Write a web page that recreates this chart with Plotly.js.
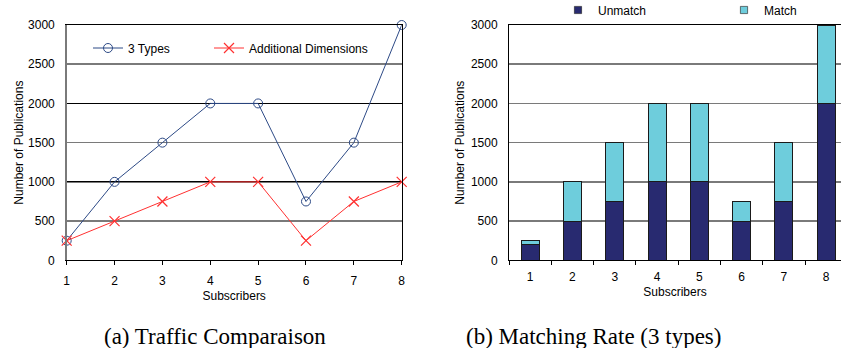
<!DOCTYPE html>
<html><head><meta charset="utf-8">
<script src="https://cdn.plot.ly/plotly-3.0.1.min.js"></script>
<style>html,body{margin:0;padding:0;background:#fff;overflow:hidden}#chart{width:841px;height:348px}</style>
</head><body><div id="chart"></div>
<script>
// ---- data ----
const subscribers = ['1','2','3','4','5','6','7','8'];
const threeTypes = [250,1000,1500,2000,2000,750,1500,3000];
const additionalDims = [250,500,750,1000,1000,250,750,1000];
const unmatch = [200,500,750,1000,1000,500,750,2000];
const match = [50,500,750,1000,1000,250,750,1000];
const yTicks = [0,500,1000,1500,2000,2500,3000];
const yMajorTicks = [0,1000,2000,3000];
const seriesNames = ['3 Types','Additional Dimensions','Unmatch','Match'];
const axisTitles = {x:'Subscribers', y:'Number of Publications'};
const captions = ['(a) Traffic Comparaison','(b) Matching Rate (3 types)'];

// ---- layout helpers ----
const W=841,H=348;
const px=v=>v/W, py=v=>1-v/H;
const FONT='Liberation Sans, Arial, sans-serif';
const yDom=[py(260.3),py(25)];
const GRAY='#7a7a7a';

const traces=[
 {type:'scatter',mode:'lines+markers',name:seriesNames[0],x:subscribers,y:threeTypes,xaxis:'x',yaxis:'y',cliponaxis:false,showlegend:true,
  line:{color:'#2d4a86',width:1},marker:{symbol:'circle-open',size:9,color:'#2d4a86',line:{width:1}},legend:'legend'},
 {type:'scatter',mode:'lines+markers',name:seriesNames[1],x:subscribers,y:additionalDims,xaxis:'x',yaxis:'y3',cliponaxis:false,showlegend:true,
  line:{color:'#ff3030',width:1},marker:{symbol:'x-thin-open',size:10,color:'#ff3030',line:{width:1.2,color:'#ff3030'}},legend:'legend2'},
 {type:'bar',name:seriesNames[2],x:subscribers,y:unmatch,xaxis:'x2',yaxis:'y2',showlegend:true,
  marker:{color:'#282a70',line:{color:'#1a1a1a',width:1}},legend:'legend3'},
 {type:'bar',name:seriesNames[3],x:subscribers,y:match,xaxis:'x2',yaxis:'y2',showlegend:true,
  marker:{color:'#6ecddc',line:{color:'#1a1a1a',width:1}},legend:'legend4'}
];

const tickFont={family:FONT,size:12,color:'#000'};
const titleFont={family:FONT,size:12,color:'#000'};
const legendBase={orientation:'h',xanchor:'left',yanchor:'middle',bgcolor:'rgba(0,0,0,0)',font:{family:FONT,size:12,color:'#000'},borderwidth:0};

const layout={
 width:W,height:H,margin:{l:0,r:0,t:0,b:0,autoexpand:false},paper_bgcolor:'#fff',plot_bgcolor:'#fff',
 showlegend:true,barmode:'stack',bargap:0.575,
 xaxis:{domain:[px(66.7),px(401.7)],anchor:'y',type:'category',categoryarray:subscribers,range:[0,7],
  showgrid:false,zeroline:false,showline:true,mirror:true,linecolor:'#000',linewidth:1,ticks:'outside',ticklen:4,tickcolor:'#000',
  tickfont:tickFont,ticklabelstandoff:5,title:{text:axisTitles.x,font:titleFont,standoff:4},fixedrange:true},
 yaxis:{domain:yDom,anchor:'x',range:[0,3000],tickvals:yTicks,ticktext:yTicks.map(String),showgrid:true,gridcolor:GRAY,gridwidth:1.5,
  zeroline:false,showline:true,linecolor:GRAY,linewidth:1.5,ticks:'',tickfont:tickFont,ticklabelstandoff:8,
  title:{text:axisTitles.y,font:titleFont,standoff:2},fixedrange:true},
 yaxis3:{overlaying:'y',anchor:'x',side:'right',range:[0,3000],tickvals:yMajorTicks,showticklabels:false,showgrid:true,gridcolor:'#000',gridwidth:1,
  zeroline:false,showline:true,linecolor:'#000',linewidth:1,ticks:'',fixedrange:true},
 xaxis2:{domain:[px(509),1],anchor:'y2',type:'category',categoryarray:subscribers,range:[-0.5,7.35],
  showgrid:false,zeroline:false,showline:true,mirror:true,linecolor:'#000',linewidth:1,ticks:'outside',tickson:'boundaries',ticklen:4,tickcolor:'#000',
  tickfont:tickFont,ticklabelstandoff:5,title:{text:axisTitles.x,font:titleFont,standoff:4},fixedrange:true},
 yaxis2:{domain:yDom,anchor:'x2',range:[0,3000],tickvals:yTicks,showgrid:true,gridcolor:GRAY,gridwidth:1.5,
  zeroline:false,showline:true,linecolor:'#000',linewidth:1,ticks:'',tickfont:tickFont,ticklabelstandoff:8,
  title:{text:axisTitles.y,font:titleFont,standoff:3},fixedrange:true},
 yaxis4:{overlaying:'y2',anchor:'x2',range:[0,3000],tickvals:yMajorTicks,showticklabels:false,showgrid:true,gridcolor:'#000',gridwidth:1,
  zeroline:false,showline:false,ticks:'',fixedrange:true},
 legend:Object.assign({},legendBase,{x:px(88),y:py(48)}),
 legend2:Object.assign({},legendBase,{x:px(209),y:py(48)}),
 legend3:Object.assign({},legendBase,{x:px(558),y:py(10)}),
 legend4:Object.assign({},legendBase,{x:px(724),y:py(10)}),
 annotations:[
  {text:captions[0],xref:'paper',yref:'paper',x:px(215),y:py(336),xanchor:'center',yanchor:'middle',showarrow:false,
   font:{family:'Liberation Serif, Times New Roman, serif',size:23,color:'#000'}},
  {text:captions[1],xref:'paper',yref:'paper',x:px(593),y:py(336),xanchor:'center',yanchor:'middle',showarrow:false,
   font:{family:'Liberation Serif, Times New Roman, serif',size:23,color:'#000'}}
 ]
};

Plotly.newPlot('chart',traces,layout,{staticPlot:true,displayModeBar:false}).then(function(gd){
 // make bar legend swatches small like the original
 gd.querySelectorAll('g.traces').forEach(function(t){
  let sw=null;
  t.querySelectorAll('g.legendpoints path').forEach(function(p){
   const d=(p.getAttribute('d')||'').replace(/\s/g,'');
   if(/^M6,6H-6V-6H6Z$/.test(d)) sw=p;
  });
  if(!sw) return;
  const tr=sw.getAttribute('transform')||'';
  sw.setAttribute('transform',tr+' scale(0.6)');
  const txt=t.querySelector('text.legendtext');
  if(txt){
   txt.setAttribute('x',29);
   txt.querySelectorAll('tspan[x]').forEach(function(s){s.setAttribute('x',29);});
  }
 });
});
</script>
</body></html>
